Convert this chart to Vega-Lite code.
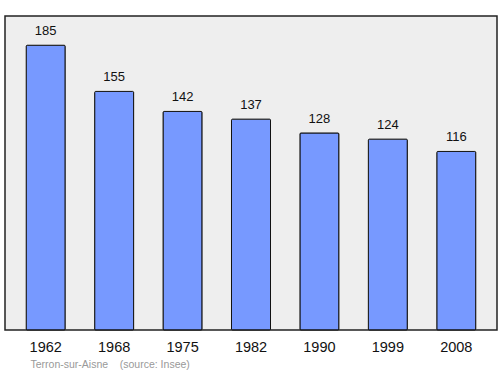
{
  "$schema": "https://vega.github.io/schema/vega-lite/v6.json",
  "width": 492,
  "height": 314,
  "autosize": {"type": "none"},
  "padding": {"left": 5, "top": 16, "right": 3, "bottom": 44},
  "background": "white",
  "config": {
    "font": "Liberation Sans",
    "view": {"fill": "#eeeeee", "stroke": "#222222", "strokeWidth": 1.5}
  },
  "data": {
    "values": [
      {"year": "1962", "pop": 185},
      {"year": "1968", "pop": 155},
      {"year": "1975", "pop": 142},
      {"year": "1982", "pop": 137},
      {"year": "1990", "pop": 128},
      {"year": "1999", "pop": 124},
      {"year": "2008", "pop": 116}
    ]
  },
  "encoding": {
    "x": {
      "field": "year",
      "type": "nominal",
      "sort": null,
      "scale": {"paddingInner": 0.43, "paddingOuter": 0.31},
      "axis": {
        "title": "Terron-sur-Aisne\u00a0\u00a0\u00a0\u00a0(source: Insee)",
        "titleFontSize": 10.5,
        "titleFontWeight": "normal",
        "titleColor": "#999999",
        "titleAnchor": "start",
        "titleAlign": "left",
        "titleX": 25,
        "titleY": 39,
        "titleBaseline": "bottom",
        "labelAngle": 0,
        "labelFontSize": 14.5,
        "labelColor": "#111111",
        "labelPadding": 10,
        "ticks": false,
        "domain": false
      }
    },
    "y": {
      "field": "pop",
      "type": "quantitative",
      "scale": {"domain": [0, 204], "nice": false},
      "axis": null
    }
  },
  "layer": [
    {
      "mark": {"type": "bar", "fill": "#7799ff", "stroke": "#111111", "strokeWidth": 1, "cornerRadius": 1}
    },
    {
      "mark": {"type": "text", "dy": -7, "baseline": "bottom", "fontSize": 13, "color": "#111111"},
      "encoding": {"text": {"field": "pop", "type": "quantitative"}}
    }
  ]
}
